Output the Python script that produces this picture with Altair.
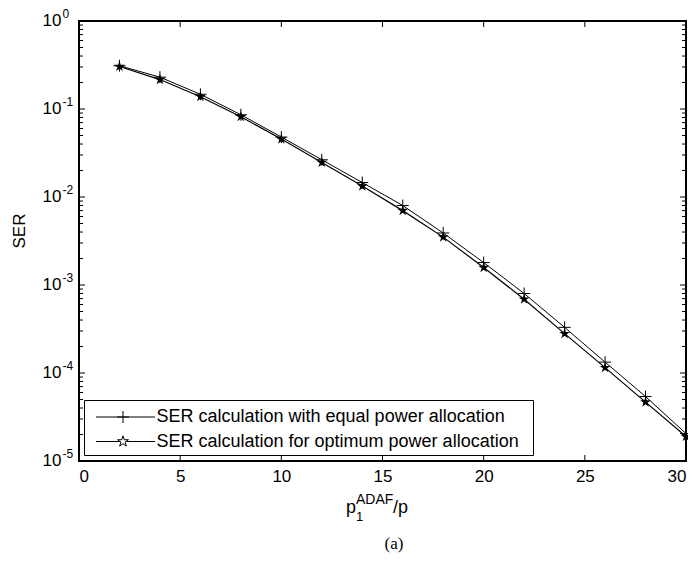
import altair as alt
import pandas as pd

# ---------------- data ----------------
x_vals = [2, 4, 6, 8, 10, 12, 14, 16, 18, 20, 22, 24, 26, 28, 30]
ser_equal = [0.31, 0.23, 0.147, 0.086, 0.048, 0.0265, 0.0146, 0.0080, 0.0039,
             0.0018, 0.00080, 0.00033, 0.000133, 0.000054, 0.0000205]
ser_optimum = [0.304, 0.216, 0.138, 0.0818, 0.0455, 0.0247, 0.0133, 0.0070, 0.0035,
               0.00158, 0.00069, 0.00028, 0.000115, 0.0000467, 0.0000190]
series_names = ["SER calculation with equal power allocation",
                "SER calculation for optimum power allocation"]
x_ticks = [0, 5, 10, 15, 20, 25, 30]
y_decades = [1e-5, 1e-4, 1e-3, 1e-2, 1e-1, 1]
y_exponents = ["-5", "-4", "-3", "-2", "-1", "0"]
y_minor = [k * 10.0 ** e for e in range(-5, 0) for k in range(2, 10)]

# ---------------- layout ----------------
W, H = 607, 440
FONT = "Liberation Sans"
PLUS = "M-1,0L1,0M0,-1L0,1"
STAR = ("M0,-1L0.2245,-0.309L0.951,-0.309L0.363,0.118L0.588,0.809L0,0.382"
        "L-0.588,0.809L-0.363,0.118L-0.951,-0.309L-0.2245,-0.309Z")

xs = alt.Scale(domain=[0, 30], nice=False)
ys = alt.Scale(type="log", domain=[1e-5, 1], nice=False)
X = alt.X("x:Q", scale=xs, axis=alt.Axis(values=x_ticks, title=None, labelFlush=True))
Y = alt.Y("ser:Q", scale=ys, axis=None)

df_eq = pd.DataFrame({"x": x_vals, "ser": ser_equal, "series": series_names[0]})
df_op = pd.DataFrame({"x": x_vals, "ser": ser_optimum, "series": series_names[1]})

line_eq = alt.Chart(df_eq).mark_line(color="black", strokeWidth=1).encode(x=X, y=Y)
line_op = alt.Chart(df_op).mark_line(color="black", strokeWidth=1.2).encode(x=X, y=Y)
pts_op = alt.Chart(df_op).mark_point(shape=STAR, filled=True, color="black", size=130,
                                     opacity=1).encode(x=X, y=Y)
pts_eq = alt.Chart(df_eq).mark_point(shape=PLUS, filled=False, color="black", size=144,
                                     strokeWidth=1, opacity=1).encode(x=X, y=Y)

# inward ticks
xt_df = pd.DataFrame({"x": x_ticks})
yt_df = pd.DataFrame({"ser": y_decades})
ym_df = pd.DataFrame({"ser": y_minor})
tick_style = dict(color="black", strokeWidth=1)
xt_bot = alt.Chart(xt_df).mark_rule(**tick_style).encode(x=X, y=alt.value(H), y2=alt.value(H - 6))
xt_top = alt.Chart(xt_df).mark_rule(**tick_style).encode(x=X, y=alt.value(0), y2=alt.value(6))
yt_left = alt.Chart(yt_df).mark_rule(**tick_style).encode(y=Y, x=alt.value(0), x2=alt.value(6))
ym_left = alt.Chart(ym_df).mark_rule(**tick_style).encode(y=Y, x=alt.value(0), x2=alt.value(4))
yt_right = alt.Chart(yt_df).mark_rule(**tick_style).encode(y=Y, x=alt.value(W), x2=alt.value(W - 6))
ym_right = alt.Chart(ym_df).mark_rule(**tick_style).encode(y=Y, x=alt.value(W), x2=alt.value(W - 4))

# y tick labels 10^n
ylab_df = pd.DataFrame({"ser": y_decades, "base": ["10"] * len(y_decades), "exp": y_exponents})
ylab_base = alt.Chart(ylab_df).mark_text(align="right", baseline="middle", fontSize=17,
                                         font=FONT, color="black").encode(
    y=Y, x=alt.value(-17.5), text="base:N")
ylab_exp = alt.Chart(ylab_df).mark_text(align="left", baseline="alphabetic", fontSize=12,
                                        font=FONT, color="black", dy=-3.5).encode(
    y=Y, x=alt.value(-16.5), text="exp:N")

# axis titles
def txt(s, x, y, size, align="left", baseline="alphabetic", font=FONT, angle=0):
    kw = dict(align=align, baseline=baseline, fontSize=size, font=font, color="black")
    if angle:
        kw["angle"] = angle
    return alt.Chart(pd.DataFrame({"t": [s]})).mark_text(**kw).encode(
        x=alt.value(x), y=alt.value(y), text="t:N")

ytitle = txt("SER", -59, 210, 17, align="center", baseline="middle", angle=270)
xt_p = txt("p", 267, 492, 18)
xt_sub = txt("1", 277, 500, 13)
xt_sup = txt("ADAF", 277, 483, 14)
xt_slash = txt("/p", 314, 492, 18)
caption = txt("(a)", 315, 528, 17, align="center", font="Liberation Serif")

# legend (box, line samples, markers, labels)
legend_box = alt.Chart(pd.DataFrame({"t": [0]})).mark_rect(
    fill="white", stroke="black", strokeWidth=1).encode(
    x=alt.value(5.5), x2=alt.value(454.5), y=alt.value(379.5), y2=alt.value(434.5))
row_y = [396, 420.5]
legend_layers = [legend_box]
for i, name in enumerate(series_names):
    ldf = pd.DataFrame({"series": [name]})
    legend_layers.append(alt.Chart(ldf).mark_rule(color="black", strokeWidth=1).encode(
        x=alt.value(17), x2=alt.value(76), y=alt.value(row_y[i])))
    if i == 0:
        legend_layers.append(alt.Chart(ldf).mark_point(shape=PLUS, filled=False, color="black",
                                                       size=144, strokeWidth=1, opacity=1).encode(
            x=alt.value(44), y=alt.value(row_y[i])))
    else:
        legend_layers.append(alt.Chart(ldf).mark_point(shape=STAR, filled=True, fill="white",
                                                       stroke="black", strokeWidth=1, size=130,
                                                       opacity=1).encode(
            x=alt.value(44), y=alt.value(row_y[i])))
    legend_layers.append(alt.Chart(ldf).mark_text(align="left", baseline="middle", fontSize=18,
                                                  font=FONT, color="black").encode(
        x=alt.value(77.5), y=alt.value(row_y[i]), text="series:N"))

chart = alt.layer(
    line_eq, line_op, pts_op, pts_eq,
    xt_bot, xt_top, yt_left, ym_left, yt_right, ym_right,
    ylab_base, ylab_exp, ytitle, xt_p, xt_sub, xt_sup, xt_slash, caption,
    *legend_layers
).properties(
    width=W, height=H,
    padding={"left": 71, "top": 13, "right": 2, "bottom": 94},
    autosize=alt.AutoSizeParams(type="none"),
    background="white",
).configure_view(
    stroke="black", strokeWidth=2
).configure_axis(
    ticks=False, domain=False, grid=False, labelFontSize=17, labelFont=FONT,
    labelColor="black", labelPadding=7
)

chart.save("out.html", embed_options={"renderer": "svg", "actions": False})
